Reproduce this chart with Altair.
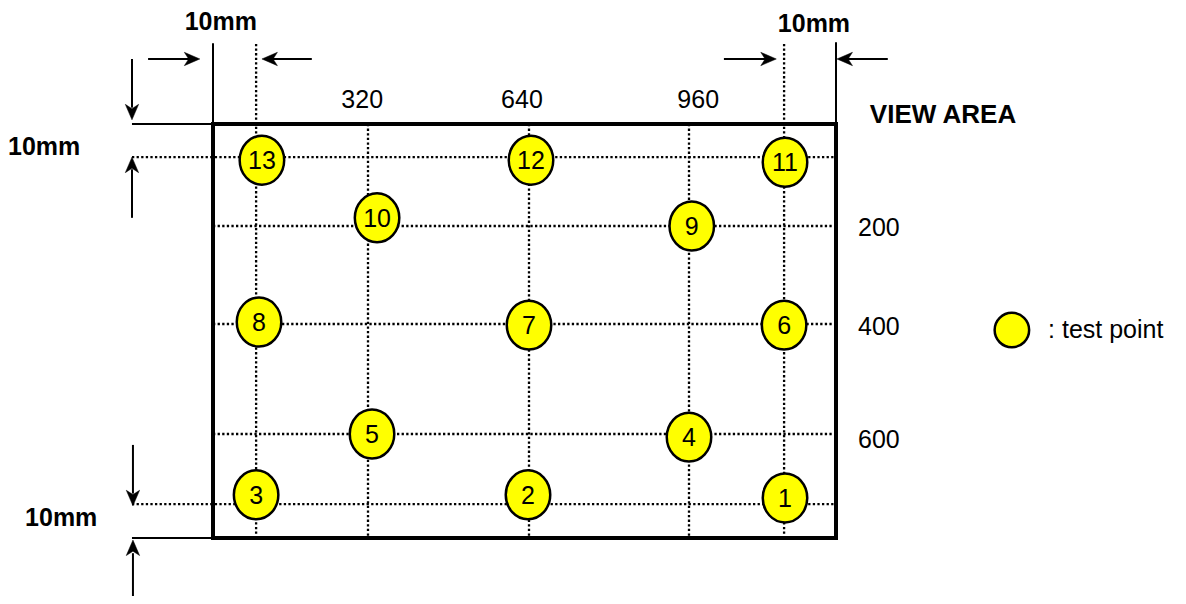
import math
import altair as alt
import pandas as pd

# ---------------- data (screen units of the 1280 x 800 view area) ----------------
AREA_W, AREA_H = 1280, 800
tick_x = [320, 640, 960]
tick_y = [200, 400, 600]
inset_x = [89, 1167]          # 10 mm inset lines
inset_y = [65, 735]

point_id = [1, 2, 3, 4, 5, 6, 7, 8, 9, 10, 11, 12, 13]
point_x = [1169, 638, 89, 960, 328, 1167, 640, 95, 966, 338, 1169, 644, 101]
point_y = [723, 717, 717, 606, 600, 402, 402, 396, 200, 184, 75, 71, 71]

# dimension arrows: tail -> tip
arrow_tail_x = [-133, 204, 1036, 1386, -166, -166, -164, -164]
arrow_tail_y = [-125, -125, -125, -125, -125, 184, 621, 930]
arrow_tip_x = [-27, 101, 1150, 1282, -166, -166, -164, -164]
arrow_tip_y = [-125, -125, -125, -125, -8, 65, 738, 804]

# thin solid extension lines
ext_x = [0, 1280, -166, -166]
ext_y = [-155, -157, 0, 800]
ext_x2 = [0, 1280, 0, 0]
ext_y2 = [0, 0, 0, 800]

dim_text = ["10mm", "10mm", "10mm", "10mm"]
dim_text_x = [16, 1232, -346, -311]
dim_text_y = [-197, -193, 45, 761]

tick_x_label_x = [308, 626, 980]
tick_x_label_y = -46
tick_y_label_x = 1325
tick_y_label_y = [204, 405, 611]

title_text = "VIEW AREA"
title_xy = (1499, -17)
legend_text = ": test point"
legend_circle_xy = (1640, 411)
legend_text_xy = (1714, 411)

# ---------------- scales ----------------
xs = alt.Scale(domain=[-420, 0, 320, 640, 960, 1280, 1980],
               range=[0, 205, 360, 521, 681, 828, 1170], zero=False, nice=False)
ys = alt.Scale(domain=[-223, 0, 200, 400, 600, 800, 911.5],
               range=[0, 116, 218, 316, 426, 530, 588], zero=False, nice=False)

def X(f="x"):
    return alt.X(f"{f}:Q", scale=xs, axis=None)

def Y(f="y"):
    return alt.Y(f"{f}:Q", scale=ys, axis=None)

FONT = "Liberation Sans"

# ---------------- dotted grid ----------------
dots = []
for v in inset_x:
    dots.append(dict(x=v, y=-154, x2=v, y2=AREA_H))
for v in tick_x:
    dots.append(dict(x=v, y=0, x2=v, y2=AREA_H))
for v in inset_y:
    dots.append(dict(x=-166, y=v, x2=AREA_W, y2=v))
for v in tick_y:
    dots.append(dict(x=0, y=v, x2=AREA_W, y2=v))
dots_df = pd.DataFrame(dots)

dotted = alt.Chart(dots_df).mark_rule(
    color="black", strokeWidth=2.3, strokeDash=[2.3, 2.3]
).encode(x=X(), y=Y(), x2="x2:Q", y2="y2:Q")

ext_df = pd.DataFrame(dict(x=ext_x, y=ext_y, x2=ext_x2, y2=ext_y2))
ext = alt.Chart(ext_df).mark_rule(color="black", strokeWidth=2).encode(
    x=X(), y=Y(), x2="x2:Q", y2="y2:Q")

area_df = pd.DataFrame(dict(x=[0], y=[0], x2=[AREA_W], y2=[AREA_H]))
area = alt.Chart(area_df).mark_rect(
    fill="white", fillOpacity=0, stroke="black", strokeWidth=4
).encode(x=X(), y=Y(), x2="x2:Q", y2="y2:Q")

# ---------------- arrows ----------------
arr_df = pd.DataFrame(dict(tx=arrow_tail_x, ty=arrow_tail_y,
                           hx=arrow_tip_x, hy=arrow_tip_y))
arr_df["angle"] = [
    (math.degrees(math.atan2(hy - ty, hx - tx)) + 360) % 360
    for tx, ty, hx, hy in zip(arrow_tail_x, arrow_tail_y, arrow_tip_x, arrow_tip_y)
]
shaft = alt.Chart(arr_df).transform_calculate(
    ex="datum.tx + (datum.hx - datum.tx) * 0.8",
    ey="datum.ty + (datum.hy - datum.ty) * 0.8",
).mark_rule(color="black", strokeWidth=2).encode(
    x=X("tx"), y=Y("ty"), x2="ex:Q", y2="ey:Q")

HEAD = "M0,0L-1,-0.43L-0.72,0L-1,0.43Z"
heads = alt.Chart(arr_df).mark_point(
    shape=HEAD, filled=True, fill="black", stroke="black", strokeWidth=0.5,
    size=960, opacity=1
).encode(x=X("hx"), y=Y("hy"), angle=alt.Angle("angle:Q", scale=None))

# ---------------- test points ----------------
ELLIPSE = ("M1,0C1,0.6075 0.5523,1.1 0,1.1C-0.5523,1.1 -1,0.6075 -1,0"
           "C-1,-0.6075 -0.5523,-1.1 0,-1.1C0.5523,-1.1 1,-0.6075 1,0Z")
pts_df = pd.DataFrame(dict(id=point_id, x=point_x, y=point_y))
pts = alt.Chart(pts_df).mark_point(
    shape=ELLIPSE, filled=True, fill="#FFFF00", stroke="black",
    strokeWidth=2.5, size=1980, opacity=1
).encode(x=X(), y=Y())
pts_lbl = alt.Chart(pts_df).mark_text(
    font=FONT, fontSize=25, color="black", align="center", baseline="middle", dy=1
).encode(x=X(), y=Y(), text="id:N")

# ---------------- texts ----------------
dim_df = pd.DataFrame(dict(t=dim_text, x=dim_text_x, y=dim_text_y))
dim_lbl = alt.Chart(dim_df).mark_text(
    font=FONT, fontSize=25, fontWeight="bold", color="black",
    align="center", baseline="middle"
).encode(x=X(), y=Y(), text="t:N")

title_df = pd.DataFrame(dict(t=[title_text], x=[title_xy[0]], y=[title_xy[1]]))
title_lbl = alt.Chart(title_df).mark_text(
    font=FONT, fontSize=26, fontWeight="bold", color="black",
    align="center", baseline="middle"
).encode(x=X(), y=Y(), text="t:N")

tx_df = pd.DataFrame(dict(t=[str(v) for v in tick_x], x=tick_x_label_x,
                          y=[tick_x_label_y] * len(tick_x)))
tx_lbl = alt.Chart(tx_df).mark_text(
    font=FONT, fontSize=25, color="black", align="center", baseline="middle"
).encode(x=X(), y=Y(), text="t:N")

ty_df = pd.DataFrame(dict(t=[str(v) for v in tick_y],
                          x=[tick_y_label_x] * len(tick_y), y=tick_y_label_y))
ty_lbl = alt.Chart(ty_df).mark_text(
    font=FONT, fontSize=25, color="black", align="left", baseline="middle"
).encode(x=X(), y=Y(), text="t:N")

CIRCLE = ("M1,0C1,0.5523 0.5523,1 0,1C-0.5523,1 -1,0.5523 -1,0"
          "C-1,-0.5523 -0.5523,-1 0,-1C0.5523,-1 1,-0.5523 1,0Z")
lg_df = pd.DataFrame(dict(x=[legend_circle_xy[0]], y=[legend_circle_xy[1]]))
lg_circle = alt.Chart(lg_df).mark_point(
    shape=CIRCLE, filled=True, fill="#FFFF00", stroke="black",
    strokeWidth=2.5, size=1190, opacity=1
).encode(x=X(), y=Y())
lgt_df = pd.DataFrame(dict(t=[legend_text], x=[legend_text_xy[0]], y=[legend_text_xy[1]]))
lg_text = alt.Chart(lgt_df).mark_text(
    font=FONT, fontSize=25, color="black", align="left", baseline="middle"
).encode(x=X(), y=Y(), text="t:N")

chart = alt.layer(
    dotted, ext, area, shaft, heads, pts, pts_lbl,
    dim_lbl, title_lbl, tx_lbl, ty_lbl, lg_circle, lg_text
).properties(
    width=1170, height=588, padding=0,
    autosize=alt.AutoSizeParams(type="none"),
    background="white",
).configure_view(strokeWidth=0)

chart.save("out.html", embed_options={"renderer": "svg", "actions": False})
